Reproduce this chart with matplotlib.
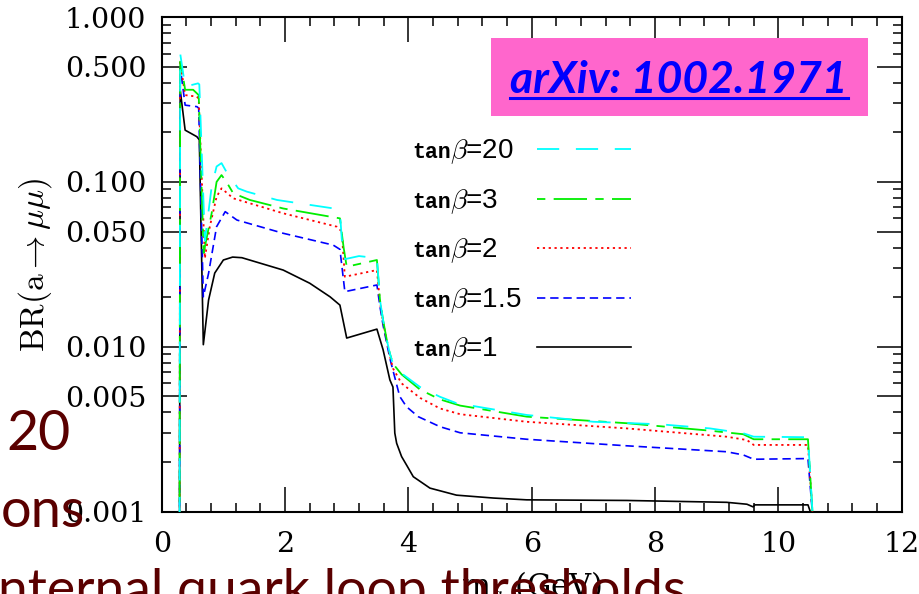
import matplotlib
matplotlib.use("Agg")
import matplotlib.pyplot as plt
from matplotlib.ticker import FixedLocator, FixedFormatter, LogLocator, NullFormatter, MultipleLocator
from matplotlib.lines import Line2D
from matplotlib.patches import Rectangle

plt.rcParams['mathtext.fontset'] = 'cm'
plt.rcParams['lines.scale_dashes'] = False

# m_a (GeV) and BR(a -> mu mu), one pair per tan(beta)
m_tb1 = [0.29, 0.30, 0.38, 0.57, 0.61, 0.675, 0.76, 0.86, 1.0, 1.15, 1.3, 1.97, 2.4, 2.73, 2.89,
         3.0, 3.49, 3.59, 3.70, 3.75, 3.78, 3.81, 3.89, 3.97, 4.08, 4.35, 4.78, 5.38, 5.92, 7.54,
         9.16, 9.49, 9.59, 9.62, 10.48, 10.56]
br_tb1 = [0.0009, 0.36, 0.206, 0.188, 0.18, 0.0103, 0.0192, 0.028, 0.0336, 0.035, 0.0347, 0.0292,
          0.0243, 0.0201, 0.0179, 0.0113, 0.0128, 0.0096, 0.0063, 0.0057, 0.0030, 0.0026, 0.00216,
          0.00192, 0.00163, 0.00139, 0.00126, 0.00121, 0.00118, 0.00117, 0.00114, 0.00111,
          0.00107, 0.00110, 0.00110, 0.0009]

m_tb15 = [0.29, 0.30, 0.38, 0.57, 0.60, 0.675, 0.76, 0.89, 1.03, 1.22, 1.97, 2.78, 2.89, 2.97,
          3.49, 3.54, 3.59, 3.65, 3.70, 3.75, 3.86, 3.97, 4.16, 4.51, 4.84, 5.92, 7.54, 9.16,
          9.43, 9.60, 10.48, 10.56]
br_tb15 = [0.0009, 0.50, 0.292, 0.286, 0.28, 0.0201, 0.0279, 0.0535, 0.066, 0.0587, 0.0488,
           0.0414, 0.039, 0.0216, 0.0237, 0.0175, 0.0135, 0.0105, 0.0085, 0.0072, 0.0050,
           0.00433, 0.00377, 0.00328, 0.00301, 0.00275, 0.00251, 0.00231, 0.00221, 0.00208,
           0.0021, 0.0009]

m_tb2 = [0.29, 0.30, 0.38, 0.57, 0.60, 0.70, 0.78, 0.89, 0.97, 1.16, 1.97, 2.84, 2.92, 2.97,
         3.49, 3.54, 3.59, 3.65, 3.70, 3.75, 3.89, 4.19, 4.51, 4.84, 5.92, 7.54, 9.16, 9.49,
         9.60, 10.48, 10.56]
br_tb2 = [0.0009, 0.53, 0.336, 0.329, 0.32, 0.0344, 0.0535, 0.0813, 0.0914, 0.0795, 0.0645,
          0.0535, 0.050, 0.0266, 0.0292, 0.0185, 0.0142, 0.0108, 0.0088, 0.0074, 0.0060,
          0.0049, 0.00423, 0.0039, 0.00351, 0.0032, 0.00285, 0.00272, 0.00254, 0.00254, 0.0009]

m_tb3 = [0.29, 0.30, 0.38, 0.51, 0.60, 0.68, 0.81, 0.89, 0.97, 1.05, 1.16, 1.43, 1.97, 2.89,
         2.95, 3.0, 3.49, 3.54, 3.59, 3.65, 3.70, 3.75, 3.89, 4.19, 4.51, 4.84, 5.92, 7.54,
         8.89, 9.43, 9.60, 10.48, 10.56]
br_tb3 = [0.0009, 0.56, 0.362, 0.362, 0.336, 0.0371, 0.0645, 0.1, 0.110, 0.1, 0.0853, 0.0777,
          0.069, 0.0601, 0.040, 0.0306, 0.0336, 0.0192, 0.0145, 0.011, 0.0091, 0.0079, 0.0068,
          0.0055, 0.0048, 0.0044, 0.00377, 0.00344, 0.0031, 0.00295, 0.00275, 0.00275, 0.0009]

m_tb20 = [0.29, 0.30, 0.38, 0.59, 0.61, 0.70, 0.81, 0.89, 0.97, 1.05, 1.24, 1.38, 1.87, 2.78,
          2.89, 2.92, 2.97, 3.2, 3.49, 3.54, 3.59, 3.65, 3.70, 3.75, 3.89, 4.19, 4.51, 4.78,
          5.92, 7.0, 8.08, 8.89, 9.43, 9.60, 10.48, 10.56]
br_tb20 = [0.0009, 0.60, 0.378, 0.396, 0.39, 0.044, 0.0935, 0.124, 0.130, 0.115, 0.0914, 0.0873,
           0.0777, 0.0691, 0.066, 0.045, 0.034, 0.0355, 0.0345, 0.0192, 0.0145, 0.011, 0.0091,
           0.0079, 0.0069, 0.0057, 0.00498, 0.00455, 0.00386, 0.00351, 0.00339, 0.0032,
           0.00299, 0.00285, 0.00283, 0.0009]

tanb_text = ["20", "3", "2", "1.5", "1"]
ytick_vals = [0.001, 0.005, 0.01, 0.05, 0.1, 0.5, 1.0]
ytick_text = ["0.001", "0.005", "0.010", "0.050", "0.100", "0.500", "1.000"]

W, H = 920, 594
fig = plt.figure(figsize=(W / 100, H / 100), dpi=100)
ax = fig.add_axes([161.7 / W, 1 - 511.7 / H, 740 / W, 494.7 / H])

# styles, top legend row first
styles = [
    dict(color='#00ffff', lw=1.3, ls=(0, (16, 12)), zorder=7),
    dict(color='#00ee00', lw=1.3, ls=(0, (6, 6, 24, 6)), zorder=6),
    dict(color='#ff0000', lw=1.3, ls=(0, (1.6, 2.6)), zorder=5),
    dict(color='#0000ff', lw=1.2, ls=(0, (6, 3.5)), zorder=4),
    dict(color='black', lw=1.2, ls='-', zorder=3),
]
curves = [(m_tb20, br_tb20), (m_tb3, br_tb3), (m_tb2, br_tb2), (m_tb15, br_tb15), (m_tb1, br_tb1)]
for (mx, by), st in zip(curves, styles):
    ax.plot(mx, by, **st)

ax.set_yscale('log')
ax.set_xlim(0, 12)
ax.set_ylim(0.001, 1.0)

ax.xaxis.set_major_locator(MultipleLocator(2))
ax.xaxis.set_minor_locator(MultipleLocator(0.4))
ax.yaxis.set_major_locator(FixedLocator(ytick_vals))
ax.yaxis.set_major_formatter(FixedFormatter(ytick_text))
ax.yaxis.set_minor_locator(LogLocator(base=10, subs=[2, 3, 4, 6, 7, 8, 9]))
ax.yaxis.set_minor_formatter(NullFormatter())

for s in ax.spines.values():
    s.set_linewidth(1.5)
ax.tick_params(which='both', direction='in', top=True, right=True, width=1.1)
ax.tick_params(which='major', length=18)
ax.tick_params(which='minor', length=6.5)
ax.tick_params(axis='y', which='major', pad=11)
ax.tick_params(axis='x', which='major', pad=14)
for lab in ax.get_xticklabels() + ax.get_yticklabels():
    lab.set_fontfamily('DejaVu Serif')
    lab.set_fontsize(20.5)

ax.set_ylabel(r"BR(a$\rightarrow\mu\mu$)", fontsize=24, fontfamily='cmr10')
ax.yaxis.set_label_coords(-0.146, 0.5)
ax.set_xlabel(r"m$_a$ (GeV)", fontsize=22, fontfamily='DejaVu Serif')
ax.xaxis.set_label_coords(0.5, -0.118)

# legend drawn by hand: labels left aligned, samples in one column
rows_y = [0.733, 0.632, 0.533, 0.432, 0.333]
fig.canvas.draw()
axbb = ax.get_window_extent()
for tv, st, yy in zip(tanb_text, styles, rows_y):
    t1 = ax.text(0.338, yy - 0.018, "tan", transform=ax.transAxes, fontsize=15.5,
                 fontfamily='Liberation Mono', fontweight='bold', va='baseline', ha='left')
    fig.canvas.draw()
    x1 = (t1.get_window_extent().x1 - axbb.x0) / axbb.width
    ax.text(x1, yy - 0.018, r"$\beta$=" + tv, transform=ax.transAxes, fontsize=20,
            fontfamily='Liberation Sans', va='baseline', ha='left')
    ax.add_line(Line2D([0.507, 0.634], [yy] * 2, transform=ax.transAxes,
                       color=st['color'], lw=st['lw'], ls=st['ls']))

# pink reference box
fig.patches.append(Rectangle((491 / W, 1 - 116 / H), 377 / W, 78 / H, transform=fig.transFigure,
                             facecolor='#ff66cc', edgecolor='none', zorder=5))
ref = fig.text(679 / W, 1 - 93 / H, "arXiv: 1002.1971", color='#0000ff', fontsize=32,
               fontfamily='Lato', fontweight='bold', fontstyle='italic', ha='center',
               va='baseline', zorder=6)
fig.canvas.draw()
bb = ref.get_window_extent()
fig.add_artist(Line2D([bb.x0 / W, bb.x1 / W], [1 - 98 / H] * 2, transform=fig.transFigure,
                      color='#0000ff', lw=2.2, zorder=6))

# slide text bleeding over the screenshot
maroon = '#5a0000'
fig.text(6 / W, 1 - 450 / H, "20", color=maroon, fontsize=40, fontfamily='Lato', va='baseline', zorder=10)
fig.text(1 / W, 1 - 527 / H, "ons", color=maroon, fontsize=39, fontfamily='Lato', va='baseline', zorder=10)
fig.text(-2 / W, 1 - 606 / H, "nternal quark loop thresholds", color=maroon, fontsize=38.5,
         fontfamily='Lato', va='baseline', zorder=10)

fig.savefig("out.png", dpi=100)
